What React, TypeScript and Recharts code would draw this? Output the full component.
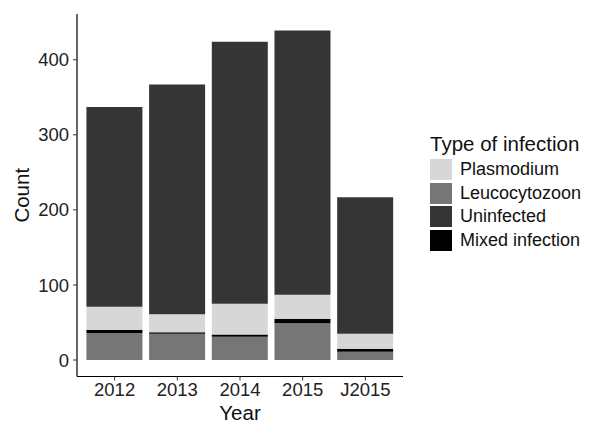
import React from "react";
import { BarChart, Bar, XAxis, YAxis } from "recharts";

const years = ["2012", "2013", "2014", "2015", "J2015"];
const leucocytozoon = [36, 35, 31, 49, 11];
const mixedInfection = [4, 2, 3, 6, 4];
const plasmodium = [31, 24, 41, 32, 20];
const uninfected = [266, 306, 349, 352, 182];
const yTicks = [0, 100, 200, 300, 400];

// legend order as in the figure, stack order is bottom-up below
const legendItems = [
  { name: "Plasmodium", color: "#d7d7d7" },
  { name: "Leucocytozoon", color: "#767676" },
  { name: "Uninfected", color: "#353535" },
  { name: "Mixed infection", color: "#000000" },
];

const data = years.map((year, i) => ({
  year,
  leuco: leucocytozoon[i],
  mixed: mixedInfection[i],
  plas: plasmodium[i],
  uninf: uninfected[i],
}));

const font = "'Liberation Sans', Arial, Helvetica, sans-serif";
const tickStyle = { fill: "#222", fontSize: 18.5, fontFamily: font };

export default function App() {
  return (
    <div style={{ position: "absolute", left: 0, top: 0, width: 592, height: 423, background: "#fff" }}>
      <BarChart
        width={592}
        height={423}
        data={data}
        margin={{ top: 14, right: 189, left: 0, bottom: 0 }}
        barCategoryGap="5%"
      >
        <XAxis
          dataKey="year"
          height={46.5}
          padding={{ left: 6.3, right: 6.3 }}
          tick={tickStyle}
          tickSize={4}
          tickMargin={2}
          axisLine={{ stroke: "#000", strokeWidth: 1.2 }}
          tickLine={{ stroke: "#333" }}
          label={{ value: "Year", position: "insideBottom", offset: 3, fill: "#111", fontSize: 20.5, fontFamily: font }}
        />
        <YAxis
          width={77}
          domain={[-21.95, 460.95]}
          ticks={yTicks}
          allowDataOverflow
          tick={tickStyle}
          tickSize={4}
          tickMargin={4}
          axisLine={{ stroke: "#000", strokeWidth: 1.2 }}
          tickLine={{ stroke: "#333" }}
          label={{ value: "Count", angle: -90, position: "center", dx: -17, fill: "#111", fontSize: 20.5, fontFamily: font }}
        />
        <Bar dataKey="leuco" stackId="a" fill="#767676" isAnimationActive={false} />
        <Bar dataKey="mixed" stackId="a" fill="#000000" isAnimationActive={false} />
        <Bar dataKey="plas" stackId="a" fill="#d7d7d7" isAnimationActive={false} />
        <Bar dataKey="uninf" stackId="a" fill="#353535" isAnimationActive={false} />
      </BarChart>
      <div style={{ position: "absolute", left: 430, top: 132, fontFamily: font, color: "#111" }}>
        <div style={{ fontSize: 20.5, lineHeight: "23px", marginBottom: 3 }}>Type of infection</div>
        {legendItems.map((item) => (
          <div key={item.name} style={{ display: "flex", alignItems: "center", height: 23.5 }}>
            <div style={{ width: 22, height: 21, background: item.color, marginRight: 8 }} />
            <span style={{ fontSize: 18 }}>{item.name}</span>
          </div>
        ))}
      </div>
    </div>
  );
}
